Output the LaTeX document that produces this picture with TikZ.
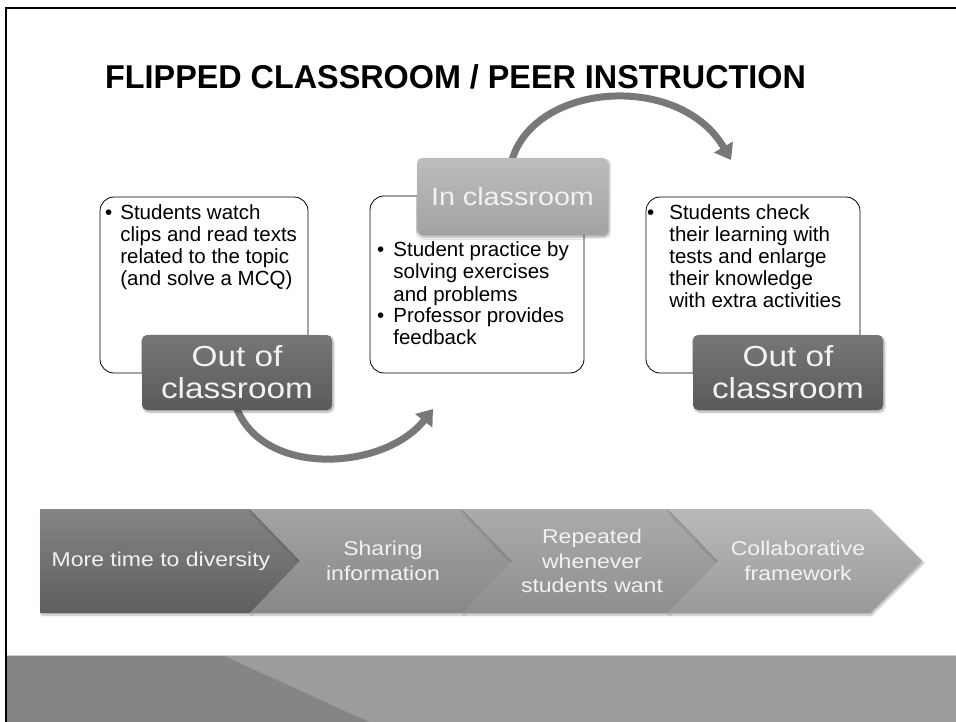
\documentclass[tikz,border=0pt]{standalone}
\usepackage{fontspec}
\setmainfont{Liberation Sans}
\newfontfamily\labelfont{Liberation Sans}[FakeStretch=1.15]
\newfontfamily\titlefont{Liberation Sans}[FakeStretch=0.98]
\usetikzlibrary{arrows.meta,shadows.blur}

\definecolor{labeldarktop}{HTML}{777777}
\definecolor{labeldarkbot}{HTML}{5A5A5A}
\definecolor{labellighttop}{HTML}{BDBDBD}
\definecolor{labellightbot}{HTML}{A2A2A2}
\definecolor{arrowgray}{HTML}{787878}
\definecolor{labeltext}{HTML}{F2F2F2}
\definecolor{bandlight}{HTML}{9C9C9C}
\definecolor{banddark}{HTML}{858585}
\definecolor{bandline}{HTML}{CFCFCF}

\begin{document}
\begin{tikzpicture}[x=1pt,y=-1pt,
  textbox/.style={draw=black, line width=0.8pt, rounded corners=14pt, fill=white, inner sep=0pt},
  bullets/.style={anchor=base west, inner sep=0pt, font=\fontsize{20.5}{22}\selectfont},
  labelbox/.style={rounded corners=5pt, inner sep=0pt, align=center, text=labeltext,
    blur shadow={shadow xshift=1.5pt, shadow yshift=-2pt, shadow blur steps=6, shadow opacity=35}},
  outlabel/.style={labelbox, minimum width=190pt, minimum height=75pt,
    top color=labeldarktop, bottom color=labeldarkbot,
    font=\labelfont\fontsize{29}{32}\selectfont},
  inlabel/.style={labelbox, minimum width=191pt, minimum height=77pt,
    top color=labellighttop, bottom color=labellightbot,
    font=\labelfont\fontsize{25}{30}\selectfont},
  flow/.style={line width=7pt, draw=arrowgray, -{Triangle[length=15pt,width=21pt]}},
  chev/.style={blur shadow={shadow xshift=1.5pt, shadow yshift=-2pt, shadow blur steps=6, shadow opacity=30}},
  chevtext/.style={text=labeltext, align=center, inner sep=0pt,
    font=\labelfont\fontsize{20}{24.5}\selectfont}
]
\useasboundingbox (0,0) rectangle (956,722);

% footer band
\fill[bandlight] (5,655) rectangle (956,722);
\fill[banddark] (5,655) -- (222,655) -- (369,722) -- (5,722) -- cycle;
\draw[bandline, line width=1pt] (5,655.5) -- (956,655.5);

% frame
\draw[black, line width=2pt] (6,722) -- (6,8) -- (956,8);

% title
\node[anchor=base west, inner sep=0pt] (title) at (105,89)
  {\titlefont\fontsize{33}{38}\selectfont\bfseries FLIPPED CLASSROOM / PEER INSTRUCTION};

% text boxes
\node[textbox, minimum width=208pt, minimum height=176pt] (box1) at (204,285) {};
\node[textbox, minimum width=214pt, minimum height=177pt] (box2) at (477,284.5) {};
\node[textbox, minimum width=214pt, minimum height=176pt] (box3) at (753,285) {};

\node[bullets] (txt1) at (105,220) {\begin{tabular}[t]{@{}l@{\hspace{8pt}}l@{}}
\textbullet & Students watch\\
 & clips and read texts\\
 & related to the topic\\
 & (and solve a MCQ)
\end{tabular}};

\node[bullets] (txt2) at (377,257) {\begin{tabular}[t]{@{}l@{\hspace{9pt}}l@{}}
\textbullet & Student practice by\\
 & solving exercises\\
 & and problems\\
\textbullet & Professor provides\\
 & feedback
\end{tabular}};

\node[bullets] (txt3) at (647,220) {\begin{tabular}[t]{@{}l@{\hspace{15pt}}l@{}}
\textbullet & Students check\\
 & their learning with\\
 & tests and enlarge\\
 & their knowledge\\
 & with extra activities
\end{tabular}};

% curved arrows between the stages
\coordinate (tip1) at (433,409);
\coordinate (tip2) at (731,160);
\coordinate (out1foot) at (237,409);
\coordinate (inhead) at (512,160);
\draw[flow] (out1foot) .. controls (265,478) and (385,470) .. (tip1);
\draw[flow] (inhead) .. controls (535,82) and (680,72) .. (tip2);

% stage labels
\node[outlabel] (out1) at (237,372.5) {Out of\\classroom};
\node[inlabel] (inroom) at (512.5,196.5) {In classroom};
\node[outlabel] (out2) at (788,372.5) {Out of\\classroom};

% chevron process
\shade[chev, top color=black!48, bottom color=black!63]
  (40,509) -- (250,509) -- (300,561) -- (250,613) -- (40,613) -- cycle;
\shade[chev, top color=black!36, bottom color=black!47]
  (250,509) -- (462,509) -- (512,561) -- (462,613) -- (250,613) -- (300,561) -- cycle;
\shade[chev, top color=black!33, bottom color=black!44]
  (462,509) -- (668,509) -- (718,561) -- (668,613) -- (462,613) -- (512,561) -- cycle;
\shade[chev, top color=black!27, bottom color=black!40]
  (668,509) -- (870,509) -- (922,561) -- (870,613) -- (668,613) -- (718,561) -- cycle;

\node[chevtext] (c1) at (161,561) {More time to diversity};
\node[chevtext] (c2) at (383,561) {Sharing\\information};
\node[chevtext] (c3) at (592,561) {Repeated\\whenever\\students want};
\node[chevtext] (c4) at (798,561) {Collaborative\\framework};
\end{tikzpicture}
\end{document}
